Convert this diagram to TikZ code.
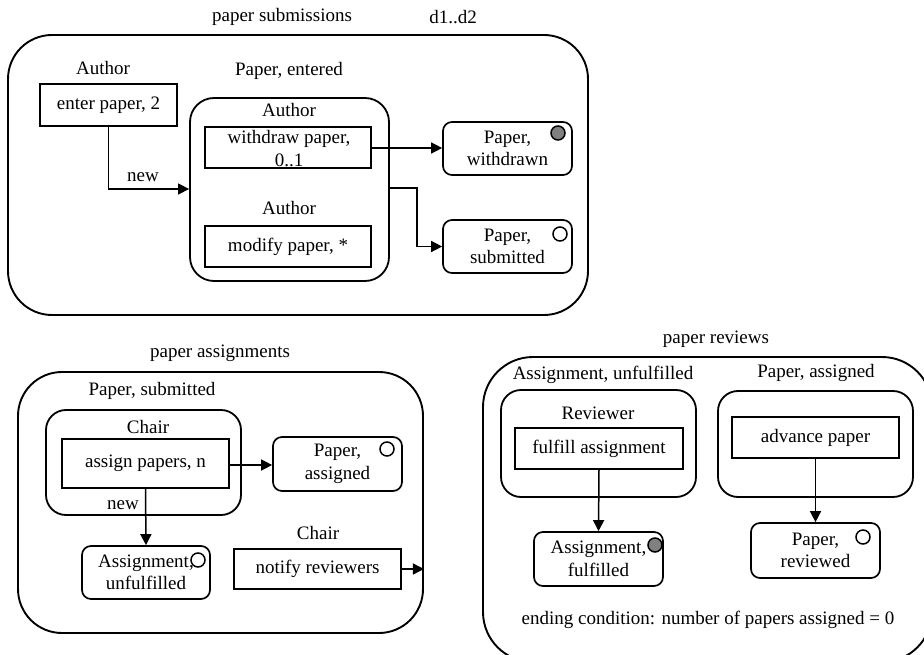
\documentclass[tikz,border=0pt]{standalone}
\usepackage{fontspec}
\setmainfont{Liberation Serif}
\usetikzlibrary{arrows.meta}
\definecolor{dotgray}{RGB}{128,128,128}
\begin{document}
\begin{tikzpicture}[x=1pt,y=-1pt,
  every node/.style={font=\fontsize{19}{22.5}\selectfont, inner sep=0pt},
  lbl/.style={align=center},
  actbox/.style={draw, line width=1.8pt, rectangle, align=center},
  stbox/.style={draw, line width=1.7pt, rounded corners=9pt, align=center},
  grpbox/.style={draw, line width=1.8pt, rounded corners=24pt},
  outbox/.style={draw, line width=1.9pt, rounded corners=44pt},
  dotfill/.style={draw, line width=1.5pt, circle, minimum size=14pt, fill=dotgray},
  dotopen/.style={draw, line width=1.5pt, circle, minimum size=14pt, fill=white},
  conn/.style={line width=1.5pt, -{Triangle[length=11pt,width=11pt]}}
]
\path[use as bounding box, clip] (0,0) rectangle (924,655);
\fill[white] (0,0) rectangle (924,655);

% ---------- paper submissions ----------
\node[lbl] (t1) at (282,17) {paper submissions};
\node[lbl] (d12) at (453,17) {d1..d2};
\node[outbox, minimum width=580pt, minimum height=280pt] (o1) at (298,175) {};
\node[lbl] (a1) at (103,68) {Author};
\node[actbox, minimum width=137pt, minimum height=42pt] (enter) at (108.5,105) {enter paper, 2};
\node[lbl] (pe) at (289,71) {Paper, entered};
\node[grpbox, minimum width=199pt, minimum height=183pt] (g1) at (289.5,189.5) {};
\node[lbl] (a2) at (289,110) {Author};
\node[actbox, minimum width=166pt, minimum height=41pt] (withdraw) at (288,147.5) {};
\node[lbl] (wt) at (289,148.5) {withdraw paper,\\0..1};
\node[lbl] (a3) at (289,208) {Author};
\node[actbox, minimum width=166pt, minimum height=41pt] (modify) at (288,246.5) {modify paper, *};
\node[stbox, minimum width=129pt, minimum height=53pt] (wd) at (507.5,148.5) {Paper,\\withdrawn};
\node[dotfill] (c1) at (558,133) {};
\node[stbox, minimum width=129pt, minimum height=53pt] (sub) at (507.5,246.5) {Paper,\\submitted};
\node[dotopen] (c2) at (560,234) {};

\coordinate (n1) at (enter.south |- 0,189);
\draw[conn] (enter.south) -- (n1) -- (g1.west |- n1);
\node[lbl] (new1) at (143,177) {new};
\draw[conn] (withdraw.east |- 0,148) -- (wd.west |- 0,148);
\coordinate (k1) at (417,188);
\coordinate (k2) at (417,246.5);
\draw[conn] (g1.east |- k1) -- (k1) -- (k2) -- (sub.west);

% ---------- paper assignments ----------
\node[lbl] (t2) at (220,353) {paper assignments};
\node[outbox, minimum width=405pt, minimum height=261pt] (o2) at (220.5,502.5) {};
\node[lbl] (ps) at (152,391) {Paper, submitted};
\node[grpbox, rounded corners=20pt, minimum width=195pt, minimum height=105pt] (g2) at (143.5,462.5) {};
\node[lbl] (ch1) at (148,427) {Chair};
\node[actbox, minimum width=167pt, minimum height=49pt] (assign) at (145.5,463.5) {assign papers, n};
\node[stbox, minimum width=129pt, minimum height=54pt] (pa) at (337.5,464) {Paper,\\assigned};
\node[dotopen] (c3) at (387,449) {};
\draw[conn] (assign.east |- 0,465) -- (pa.west |- 0,465);
\node[stbox, minimum width=128pt, minimum height=53pt] (au) at (146,572.5) {Assignment,\\unfulfilled};
\node[dotopen] (c4) at (198,560) {};
\draw[conn] (assign.south) -- (au.north);
\node[lbl] (new2) at (123,505) {new};
\node[lbl] (ch2) at (318,533) {Chair};
\node[actbox, minimum width=167pt, minimum height=40pt] (notify) at (317.5,569) {notify reviewers};
\draw[conn] (notify.east) -- (o2.east |- notify.east);

% ---------- paper reviews ----------
\node[lbl] (t3) at (716,339) {paper reviews};
\node[outbox, rounded corners=50pt, minimum width=449pt, minimum height=305pt] (o3) at (707.5,509.5) {};
\node[lbl] (aun) at (603,375) {Assignment, unfulfilled};
\node[lbl] (pas) at (816,373) {Paper, assigned};
\node[grpbox, rounded corners=20pt, minimum width=195pt, minimum height=107pt] (g3) at (598.5,443.5) {};
\node[lbl] (rv) at (598,413) {Reviewer};
\node[actbox, minimum width=168pt, minimum height=41pt] (fulfill) at (599,448.5) {fulfill assignment};
\node[grpbox, rounded corners=20pt, minimum width=195pt, minimum height=106pt] (g4) at (815.5,444) {};
\node[actbox, minimum width=167pt, minimum height=41pt] (advance) at (815.5,437.5) {advance paper};
\node[stbox, minimum width=129pt, minimum height=54pt] (af) at (598.5,559) {Assignment,\\fulfilled};
\node[dotfill] (c5) at (655,545) {};
\node[stbox, minimum width=129pt, minimum height=55pt] (pr) at (815.5,550.5) {Paper,\\reviewed};
\node[dotopen] (c6) at (863,537) {};
\draw[conn] (fulfill.south) -- (af.north);
\draw[conn] (advance.south) -- (pr.north);
\node[lbl] (end) at (708,620) {ending condition: number of papers assigned = 0};
\end{tikzpicture}
\end{document}
